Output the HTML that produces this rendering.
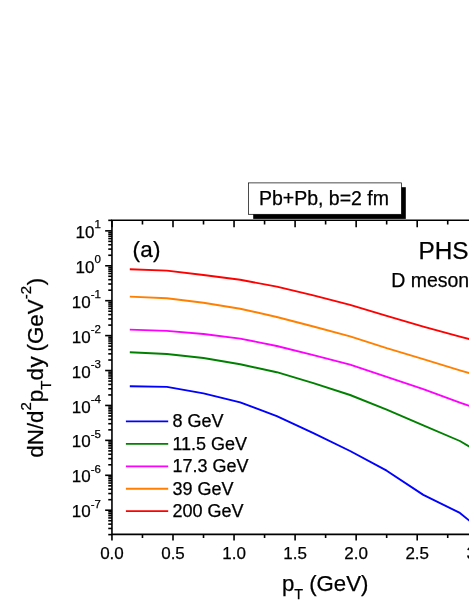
<!DOCTYPE html>
<html><head><meta charset="utf-8"><title>chart</title>
<style>html,body{margin:0;padding:0;background:#fff;overflow:hidden}body{width:469px;height:607px;font-family:"Liberation Sans",sans-serif}</style></head>
<body>
<svg width="469" height="607" viewBox="0 0 469 607" style="display:block;will-change:transform">
<rect width="469" height="607" fill="#fff"/>
<polyline points="129.8,386.3 166.9,386.9 203.5,393.4 240.2,402.4 276.8,416.1 313.4,433.1 350.1,451.0 386.7,470.7 423.3,494.9 459.9,512.9 496.6,543.0" fill="none" stroke="#0000ff" stroke-width="1.9" stroke-linejoin="round"/>
<polyline points="129.8,352.2 166.9,354.0 203.5,358.0 240.2,364.3 276.8,372.2 313.4,383.1 350.1,395.0 386.7,409.6 423.3,425.3 459.9,441.0 496.6,462.8" fill="none" stroke="#008000" stroke-width="1.9" stroke-linejoin="round"/>
<polyline points="129.8,329.6 166.9,330.9 203.5,334.0 240.2,338.6 276.8,346.0 313.4,355.1 350.1,364.6 386.7,376.8 423.3,389.1 459.9,402.6 496.6,415.5" fill="none" stroke="#ff00ff" stroke-width="1.9" stroke-linejoin="round"/>
<polyline points="129.8,296.6 166.9,298.2 203.5,302.7 240.2,308.7 276.8,317.0 313.4,326.5 350.1,336.3 386.7,348.2 423.3,359.2 459.9,370.4 496.6,381.0" fill="none" stroke="#ff8000" stroke-width="1.9" stroke-linejoin="round"/>
<polyline points="129.8,269.3 166.9,270.6 203.5,275.0 240.2,279.8 276.8,286.6 313.4,295.4 350.1,304.9 386.7,315.8 423.3,326.6 459.9,336.6 496.6,346.3" fill="none" stroke="#ff0000" stroke-width="1.9" stroke-linejoin="round"/>
<g stroke="#000" stroke-width="1.6" fill="none">
<path d="M111.95,220.2 H474 M111.95,534.4 H474 M111.95,219.39999999999998 V535.1999999999999"/>
<path d="M111.95,220.2 v7.0 M111.95,534.4 v6.2"/>
<path d="M142.47,220.2 v4.2 M142.47,534.4 v3.6"/>
<path d="M173.00,220.2 v7.0 M173.00,534.4 v6.2"/>
<path d="M203.52,220.2 v4.2 M203.52,534.4 v3.6"/>
<path d="M234.05,220.2 v7.0 M234.05,534.4 v6.2"/>
<path d="M264.57,220.2 v4.2 M264.57,534.4 v3.6"/>
<path d="M295.10,220.2 v7.0 M295.10,534.4 v6.2"/>
<path d="M325.62,220.2 v4.2 M325.62,534.4 v3.6"/>
<path d="M356.15,220.2 v7.0 M356.15,534.4 v6.2"/>
<path d="M386.67,220.2 v4.2 M386.67,534.4 v3.6"/>
<path d="M417.20,220.2 v7.0 M417.20,534.4 v6.2"/>
<path d="M447.72,220.2 v4.2 M447.72,534.4 v3.6"/>
<path d="M111.95,534.62 h-3.7"/>
<path d="M111.95,528.47 h-3.7"/>
<path d="M111.95,524.11 h-3.7"/>
<path d="M111.95,520.72 h-3.7"/>
<path d="M111.95,517.96 h-3.7"/>
<path d="M111.95,515.62 h-3.7"/>
<path d="M111.95,513.59 h-3.7"/>
<path d="M111.95,511.81 h-3.7"/>
<path d="M111.95,510.21 h-6.8"/>
<path d="M111.95,499.70 h-3.7"/>
<path d="M111.95,493.55 h-3.7"/>
<path d="M111.95,489.19 h-3.7"/>
<path d="M111.95,485.80 h-3.7"/>
<path d="M111.95,483.04 h-3.7"/>
<path d="M111.95,480.70 h-3.7"/>
<path d="M111.95,478.67 h-3.7"/>
<path d="M111.95,476.89 h-3.7"/>
<path d="M111.95,475.29 h-6.8"/>
<path d="M111.95,464.78 h-3.7"/>
<path d="M111.95,458.63 h-3.7"/>
<path d="M111.95,454.27 h-3.7"/>
<path d="M111.95,450.88 h-3.7"/>
<path d="M111.95,448.12 h-3.7"/>
<path d="M111.95,445.78 h-3.7"/>
<path d="M111.95,443.75 h-3.7"/>
<path d="M111.95,441.97 h-3.7"/>
<path d="M111.95,440.37 h-6.8"/>
<path d="M111.95,429.86 h-3.7"/>
<path d="M111.95,423.71 h-3.7"/>
<path d="M111.95,419.35 h-3.7"/>
<path d="M111.95,415.96 h-3.7"/>
<path d="M111.95,413.20 h-3.7"/>
<path d="M111.95,410.86 h-3.7"/>
<path d="M111.95,408.83 h-3.7"/>
<path d="M111.95,407.05 h-3.7"/>
<path d="M111.95,405.45 h-6.8"/>
<path d="M111.95,394.94 h-3.7"/>
<path d="M111.95,388.79 h-3.7"/>
<path d="M111.95,384.43 h-3.7"/>
<path d="M111.95,381.04 h-3.7"/>
<path d="M111.95,378.28 h-3.7"/>
<path d="M111.95,375.94 h-3.7"/>
<path d="M111.95,373.91 h-3.7"/>
<path d="M111.95,372.13 h-3.7"/>
<path d="M111.95,370.53 h-6.8"/>
<path d="M111.95,360.02 h-3.7"/>
<path d="M111.95,353.87 h-3.7"/>
<path d="M111.95,349.51 h-3.7"/>
<path d="M111.95,346.12 h-3.7"/>
<path d="M111.95,343.36 h-3.7"/>
<path d="M111.95,341.02 h-3.7"/>
<path d="M111.95,338.99 h-3.7"/>
<path d="M111.95,337.21 h-3.7"/>
<path d="M111.95,335.61 h-6.8"/>
<path d="M111.95,325.10 h-3.7"/>
<path d="M111.95,318.95 h-3.7"/>
<path d="M111.95,314.59 h-3.7"/>
<path d="M111.95,311.20 h-3.7"/>
<path d="M111.95,308.44 h-3.7"/>
<path d="M111.95,306.10 h-3.7"/>
<path d="M111.95,304.07 h-3.7"/>
<path d="M111.95,302.29 h-3.7"/>
<path d="M111.95,300.69 h-6.8"/>
<path d="M111.95,290.18 h-3.7"/>
<path d="M111.95,284.03 h-3.7"/>
<path d="M111.95,279.67 h-3.7"/>
<path d="M111.95,276.28 h-3.7"/>
<path d="M111.95,273.52 h-3.7"/>
<path d="M111.95,271.18 h-3.7"/>
<path d="M111.95,269.15 h-3.7"/>
<path d="M111.95,267.37 h-3.7"/>
<path d="M111.95,265.77 h-6.8"/>
<path d="M111.95,255.26 h-3.7"/>
<path d="M111.95,249.11 h-3.7"/>
<path d="M111.95,244.75 h-3.7"/>
<path d="M111.95,241.36 h-3.7"/>
<path d="M111.95,238.60 h-3.7"/>
<path d="M111.95,236.26 h-3.7"/>
<path d="M111.95,234.23 h-3.7"/>
<path d="M111.95,232.45 h-3.7"/>
<path d="M111.95,230.85 h-6.8"/>
<path d="M111.95,220.34 h-3.7"/>
</g>
<text x="100.9" y="517.31" text-anchor="end" font-family="Liberation Sans, sans-serif" stroke="#000" stroke-width="0.25" font-size="17">10<tspan font-size="11.5" dy="-9.6">-7</tspan></text>
<text x="100.9" y="482.39" text-anchor="end" font-family="Liberation Sans, sans-serif" stroke="#000" stroke-width="0.25" font-size="17">10<tspan font-size="11.5" dy="-9.6">-6</tspan></text>
<text x="100.9" y="447.47" text-anchor="end" font-family="Liberation Sans, sans-serif" stroke="#000" stroke-width="0.25" font-size="17">10<tspan font-size="11.5" dy="-9.6">-5</tspan></text>
<text x="100.9" y="412.55" text-anchor="end" font-family="Liberation Sans, sans-serif" stroke="#000" stroke-width="0.25" font-size="17">10<tspan font-size="11.5" dy="-9.6">-4</tspan></text>
<text x="100.9" y="377.63" text-anchor="end" font-family="Liberation Sans, sans-serif" stroke="#000" stroke-width="0.25" font-size="17">10<tspan font-size="11.5" dy="-9.6">-3</tspan></text>
<text x="100.9" y="342.71" text-anchor="end" font-family="Liberation Sans, sans-serif" stroke="#000" stroke-width="0.25" font-size="17">10<tspan font-size="11.5" dy="-9.6">-2</tspan></text>
<text x="100.9" y="307.79" text-anchor="end" font-family="Liberation Sans, sans-serif" stroke="#000" stroke-width="0.25" font-size="17">10<tspan font-size="11.5" dy="-9.6">-1</tspan></text>
<text x="100.9" y="272.87" text-anchor="end" font-family="Liberation Sans, sans-serif" stroke="#000" stroke-width="0.25" font-size="17">10<tspan font-size="11.5" dy="-9.6">0</tspan></text>
<text x="100.9" y="237.95" text-anchor="end" font-family="Liberation Sans, sans-serif" stroke="#000" stroke-width="0.25" font-size="17">10<tspan font-size="11.5" dy="-9.6">1</tspan></text>
<text x="111.95" y="558.8" text-anchor="middle" font-family="Liberation Sans, sans-serif" stroke="#000" stroke-width="0.25" font-size="17">0.0</text>
<text x="173.00" y="558.8" text-anchor="middle" font-family="Liberation Sans, sans-serif" stroke="#000" stroke-width="0.25" font-size="17">0.5</text>
<text x="234.05" y="558.8" text-anchor="middle" font-family="Liberation Sans, sans-serif" stroke="#000" stroke-width="0.25" font-size="17">1.0</text>
<text x="295.10" y="558.8" text-anchor="middle" font-family="Liberation Sans, sans-serif" stroke="#000" stroke-width="0.25" font-size="17">1.5</text>
<text x="356.15" y="558.8" text-anchor="middle" font-family="Liberation Sans, sans-serif" stroke="#000" stroke-width="0.25" font-size="17">2.0</text>
<text x="417.20" y="558.8" text-anchor="middle" font-family="Liberation Sans, sans-serif" stroke="#000" stroke-width="0.25" font-size="17">2.5</text>
<text x="478.25" y="558.8" text-anchor="middle" font-family="Liberation Sans, sans-serif" stroke="#000" stroke-width="0.25" font-size="17">3.0</text>
<text x="281.9" y="591.3" font-family="Liberation Sans, sans-serif" stroke="#000" stroke-width="0.25" font-size="22.2">p<tspan font-size="14.4" dy="8">T</tspan><tspan dy="-8"> (GeV)</tspan></text>
<g transform="translate(43.2,457.8) rotate(-90)"><text x="0" y="0" font-family="Liberation Sans, sans-serif" stroke="#000" stroke-width="0.25" font-size="22.4">dN/d<tspan font-size="15" dy="-11.8">2</tspan><tspan dy="11.8">p</tspan><tspan font-size="15" dy="8">T</tspan><tspan dy="-8">d</tspan><tspan dx="0.6">y</tspan><tspan dx="-1.5"> (GeV</tspan><tspan font-size="15" dy="-12">-2</tspan><tspan dy="12" dx="0.7">)</tspan></text></g>
<rect x="253.2" y="187.2" width="152.6" height="31.7" fill="#000"/>
<rect x="248.4" y="182.9" width="153.0" height="31.4" fill="#fff" stroke="#000" stroke-width="0.7"/>
<text x="258.9" y="205.3" font-family="Liberation Sans, sans-serif" stroke="#000" stroke-width="0.25" font-size="19.5">Pb+Pb, b=2 fm</text>
<text x="132.5" y="257.3" font-family="Liberation Sans, sans-serif" stroke="#000" stroke-width="0.25" font-size="22.5" letter-spacing="0.3">(a)</text>
<text x="418.4" y="259.35" font-family="Liberation Sans, sans-serif" stroke="#000" stroke-width="0.25" font-size="24.4">PHSD</text>
<text x="391.2" y="286.7" font-family="Liberation Sans, sans-serif" stroke="#000" stroke-width="0.25" font-size="19.5">D mesons</text>
<path d="M125.9,421.40 H168.2" stroke="#0000ff" stroke-width="1.8"/>
<text x="172.4" y="427.40" font-family="Liberation Sans, sans-serif" stroke="#000" stroke-width="0.25" font-size="18">8 GeV</text>
<path d="M125.9,443.85 H168.2" stroke="#008000" stroke-width="1.8"/>
<text x="172.4" y="449.78" font-family="Liberation Sans, sans-serif" stroke="#000" stroke-width="0.25" font-size="18">11.5 GeV</text>
<path d="M125.9,466.30 H168.2" stroke="#ff00ff" stroke-width="1.8"/>
<text x="172.4" y="472.16" font-family="Liberation Sans, sans-serif" stroke="#000" stroke-width="0.25" font-size="18">17.3 GeV</text>
<path d="M125.9,488.75 H168.2" stroke="#ff8000" stroke-width="1.8"/>
<text x="172.4" y="494.54" font-family="Liberation Sans, sans-serif" stroke="#000" stroke-width="0.25" font-size="18">39 GeV</text>
<path d="M125.9,511.20 H168.2" stroke="#ff0000" stroke-width="1.8"/>
<text x="172.4" y="516.92" font-family="Liberation Sans, sans-serif" stroke="#000" stroke-width="0.25" font-size="18">200 GeV</text>
</svg>
</body></html>
